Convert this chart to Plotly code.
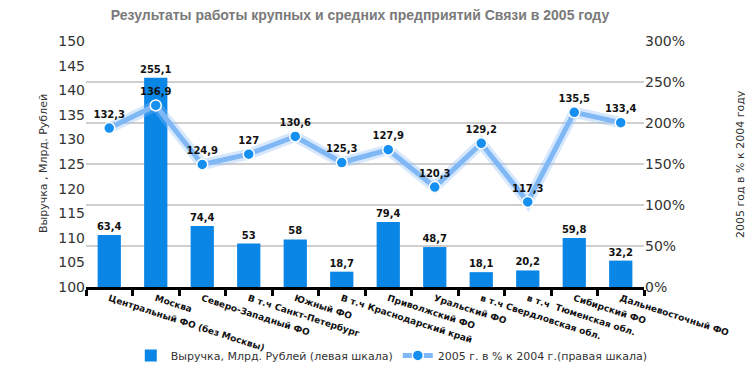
import plotly.graph_objects as go

categories = [
    "Центральный ФО (без Москвы)", "Москва", "Северо-Западный ФО",
    "В т.ч Санкт-Петербург", "Южный ФО", "В т.ч Краснодарский край",
    "Приволжский ФО", "Уральский ФО", "в т.ч Свердловская обл.",
    "в т.ч  Тюменская обл.", "Сибирский ФО", "Дальневосточный ФО",
]
revenue = [63.4, 255.1, 74.4, 53, 58, 18.7, 79.4, 48.7, 18.1, 20.2, 59.8, 32.2]
growth_pct = [132.3, 136.9, 124.9, 127, 130.6, 125.3, 127.9, 120.3, 129.2, 117.3, 135.5, 133.4]

left_ticks = [100, 105, 110, 115, 120, 125, 130, 135, 140, 145, 150]
right_ticks = [0, 50, 100, 150, 200, 250, 300]


def fmt(v):
    return f"{v:g}".replace(".", ",")


FONT = "DejaVu Sans"

fig = go.Figure()

fig.add_trace(go.Bar(
    x=categories, y=revenue, yaxis="y",
    name="Выручка, Млрд. Рублей (левая шкала)",
    marker=dict(color="#0a86e6", line=dict(width=0)),
    width=0.5,
    text=[fmt(v) for v in revenue], textposition="outside",
    constraintext="none",
    textfont=dict(family=FONT, size=10, color="#111", weight="bold"),
    cliponaxis=False,
))

# glow behind line
fig.add_trace(go.Scatter(
    x=categories, y=growth_pct, yaxis="y2", mode="lines",
    line=dict(color="rgba(140,190,250,0.35)", width=11),
    showlegend=False, hoverinfo="skip",
))

fig.add_trace(go.Scatter(
    x=categories, y=growth_pct, yaxis="y2", mode="lines+markers+text",
    name="2005 г. в % к 2004 г.(правая шкала)",
    line=dict(color="#80b8f6", width=5),
    marker=dict(color="#1690f0", size=11, line=dict(color="white", width=1.5)),
    text=[fmt(v) for v in growth_pct], textposition="top center",
    textfont=dict(family=FONT, size=10, color="#111", weight="bold"),
    cliponaxis=False,
))

W, H = 745, 362  # page body has an 8px margin

fig.update_layout(
    width=W, height=H,
    margin=dict(l=78, r=109, t=33, b=83, autoexpand=False),
    paper_bgcolor="white", plot_bgcolor="white",
    font=dict(family=FONT, color="#333"),
    bargap=0.5,
    title=dict(
        text="Результаты работы крупных и средних предприятий Связи в 2005 году",
        x=352 / W, xanchor="center", y=1 - 2 / H, yanchor="top", pad=dict(t=0),
        font=dict(family="Liberation Sans", size=14, color="#7a7a7a", weight="bold"),
    ),
    xaxis=dict(
        automargin=False, range=[-0.5, len(categories) - 0.5],
        showline=True, linecolor="black", linewidth=3,
        ticks="outside", tickson="boundaries", ticklen=6, tickwidth=3, tickcolor="black",
        tickangle=18,
        tickfont=dict(family=FONT, size=9, color="#111", weight="bold"),
        showgrid=False,
    ),
    yaxis=dict(
        automargin=False,
        side="right", range=[0, 300], tickvals=right_ticks,
        ticktext=[f"{t}%" for t in right_ticks],
        tickfont=dict(family=FONT, size=14, color="#333"),
        showgrid=True, gridcolor="#cfcfcf", gridwidth=1.5,
        zeroline=False, showline=False, ticks="",
    ),
    yaxis2=dict(
        automargin=False,
        overlaying="y", side="left", range=[100, 150], tickvals=left_ticks,
        tickfont=dict(family=FONT, size=14, color="#333"),
        showgrid=False, zeroline=False, showline=False, ticks="",
    ),
    legend=dict(
        orientation="h", x=0.548, xanchor="center", y=-0.278, yanchor="middle",
        font=dict(family=FONT, size=11, color="#333"),
        bgcolor="rgba(0,0,0,0)",
        traceorder="normal",
    ),
    annotations=[
        dict(text="Выручка , Млрд. Рублей", xref="paper", yref="paper",
             x=(43 - 86) / 558, y=0.5, xanchor="center", yanchor="middle",
             textangle=-90, showarrow=False,
             font=dict(family=FONT, size=11, color="#333")),
        dict(text="2005 год в % к 2004 году", xref="paper", yref="paper",
             x=(740 - 86) / 558, y=0.5, xanchor="center", yanchor="middle",
             textangle=-90, showarrow=False,
             font=dict(family=FONT, size=11, color="#333")),
    ],
)

fig.write_html("out.html")
